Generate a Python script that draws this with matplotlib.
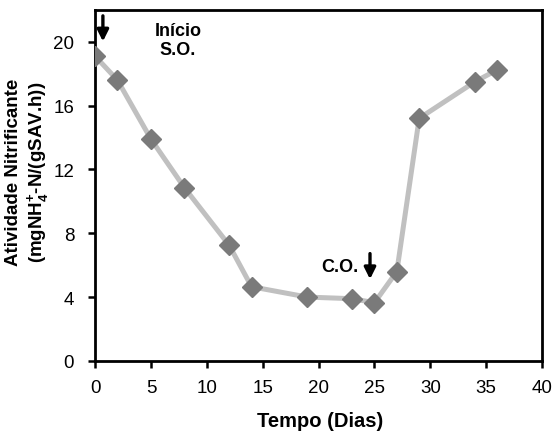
import matplotlib
matplotlib.use("Agg")
import matplotlib.pyplot as plt

plt.rcParams['font.family'] = ['Liberation Sans', 'DejaVu Sans']
plt.rcParams['mathtext.fontset'] = 'custom'
plt.rcParams['mathtext.rm'] = 'Liberation Sans'
plt.rcParams['mathtext.bf'] = 'Liberation Sans:bold'

dias = [0, 2, 5, 8, 12, 14, 19, 23, 25, 27, 29, 34, 36]
atividade = [19.1, 17.6, 13.9, 10.85, 7.25, 4.65, 4.0, 3.9, 3.65, 5.6, 15.2, 17.5, 18.25]
xticks = [0, 5, 10, 15, 20, 25, 30, 35, 40]
yticks = [0, 4, 8, 12, 16, 20]

fig = plt.figure(figsize=(5.56, 4.35), dpi=100)
ax = fig.add_axes([0.171, 0.168, 0.804, 0.807])
ax.plot(dias, atividade, color='#c0c0c0', lw=3.6, zorder=2)
ax.plot(dias, atividade, ls='none', marker='D', ms=10, color='#7a7a7a', zorder=3)

ax.set_xlim(0, 40)
ax.set_ylim(0, 22)
ax.set_xticks(xticks)
ax.set_yticks(yticks)
ax.tick_params(direction='out', length=5, width=1.8, labelsize=13.5)
ax.tick_params(axis='y', pad=10)
ax.tick_params(axis='x', pad=8)
for s in ax.spines.values():
    s.set_linewidth(2)

ax.set_xlabel('Tempo (Dias)', fontsize=14.5, fontweight='bold', va='center')
ax.xaxis.set_label_coords(0.503, -0.171)
ax.set_ylabel('Atividade Nitrificante\n(mgNH$_\\mathbf{4}^\\mathbf{+}$-N/(gSAV.h))', fontsize=13.5,
              fontweight='bold', va='center', linespacing=1.18)
ax.yaxis.set_label_coords(-0.149, 0.54)

ax.annotate('', xy=(0.7, 19.85), xytext=(0.7, 21.8),
            arrowprops=dict(arrowstyle='-|>', color='black', lw=2.4, mutation_scale=17))
ax.annotate('', xy=(24.6, 4.95), xytext=(24.6, 6.9),
            arrowprops=dict(arrowstyle='-|>', color='black', lw=2.4, mutation_scale=17))
ax.text(7.4, 20.12, 'Início\nS.O.', ha='center', va='center', fontsize=13, fontweight='bold',
        linespacing=1.2)
ax.text(21.9, 5.9, 'C.O.', ha='center', va='center', fontsize=13, fontweight='bold')

fig.savefig('out.png', dpi=100)
